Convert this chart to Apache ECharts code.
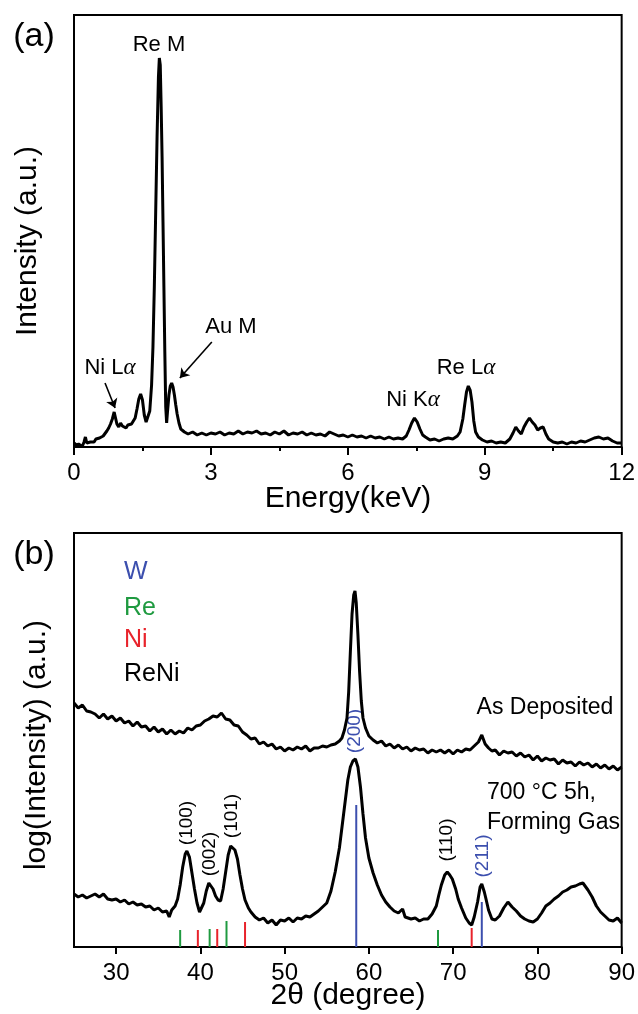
<!DOCTYPE html>
<html>
<head>
<meta charset="utf-8">
<script src="https://cdn.jsdelivr.net/npm/echarts@6/dist/echarts.min.js"></script>
<style>
html,body{margin:0;padding:0;background:#fff;}
#chart{width:638px;height:1014px;}
</style>
</head>
<body>
<div id="chart"></div>
<script>
// (a) EDS spectrum
var edsEnergy = [0.00,0.05,0.10,0.14,0.18,0.22,0.25,0.28,0.32,0.36,0.40,0.44,0.48,0.52,0.56,0.60,0.64,0.68,0.72,0.76,
	0.80,0.84,0.88,0.91,0.94,0.98,1.02,1.06,1.10,1.14,1.18,1.22,1.26,1.30,1.34,1.38,1.42,1.46,1.50,1.54,
	1.58,1.62,1.66,1.70,1.73,1.76,1.79,1.82,1.85,1.87,1.89,1.91,1.93,1.95,1.97,1.99,2.01,2.03,2.05,2.08,
	2.11,2.14,2.17,2.20,2.23,2.26,2.30,2.34,2.38,2.42,2.5,2.6,2.7,2.8,2.9,3.0,3.1,3.2,3.3,3.4,
	3.5,3.6,3.7,3.8,3.9,4.0,4.1,4.2,4.3,4.4,4.5,4.6,4.7,4.8,4.9,5.0,5.1,5.2,5.3,5.4,
	5.5,5.6,5.7,5.8,5.9,6.0,6.1,6.2,6.3,6.4,6.5,6.6,6.7,6.8,6.9,7.0,7.1,7.2,7.28,7.34,
	7.40,7.46,7.52,7.58,7.64,7.70,7.8,7.9,8.0,8.1,8.2,8.3,8.4,8.46,8.52,8.56,8.60,8.64,8.68,8.72,
	8.76,8.80,8.86,8.95,9.05,9.15,9.25,9.35,9.45,9.55,9.62,9.68,9.74,9.80,9.86,9.92,9.98,10.04,10.10,10.16,
	10.22,10.28,10.34,10.40,10.5,10.6,10.7,10.8,10.9,11.0,11.1,11.2,11.3,11.4,11.5,11.6,11.7,11.8,11.9,12.0];
var edsCounts = [4,2,3,1,0.5,5,10,4,3,5,7,5,8,7,9,8,11,13,16,19,
	23,28,35,29,23,20,24,21,23,19,22,20,23,25,29,38,48,53,47,32,
	25,27,36,62,100,160,235,310,370,389,382,340,290,225,160,95,40,24,36,52,
	61,64,60,52,42,33,24,18,16,15,13,15,12,14,12,14,13,15,12,14,
	13,16,13,15,14,16,13,14,12,15,13,16,12,14,13,15,12,14,12,13,
	11,15,13,11,12,10,12,10,11,9,11,9,10,8,10,8,9,8,11,17,
	24,29,25,18,12,10,7,8,6,8,9,8,11,15,28,42,55,61,57,45,
	26,15,10,7,5,6,4,5,4,8,14,20,16,13,20,25,29,25,22,17,
	19,20,13,8,5,4,5,3,5,4,6,5,7,9,10,8,9,6,4,4];
var edsTicks = [0,3,6,9,12];

// (b) XRD patterns
var asDepTheta = [25,25.5,26,26.5,27,27.5,28,28.5,29,29.5,30,30.5,31,31.5,32,32.5,33,33.5,34,34.5,
	35,35.5,36,36.5,37,37.5,38,38.5,39,39.5,40,40.5,41,41.5,42,42.5,43,43.5,44,44.5,
	45,45.5,46,46.5,47,47.5,48,48.5,49,49.5,50,50.5,51,51.5,52,52.5,53,53.5,54,54.5,
	55,55.5,56,56.5,56.8,57.1,57.4,57.6,57.8,58.0,58.2,58.35,58.5,58.7,58.9,59.1,59.3,59.6,60,60.5,
	61,61.5,62,62.5,63,63.5,64,64.5,65,65.5,66,66.5,67,67.5,68,68.5,69,69.5,70,70.5,
	71,71.5,72,72.5,73,73.4,73.8,74.2,74.6,75,75.5,76,76.5,77,77.5,78,78.5,79,79.5,80,
	80.5,81,81.5,82,82.5,83,83.5,84,84.5,85,85.5,86,86.5,87,87.5,88,88.5,89,89.5,90];
var asDeposited = [244,239,242,236,235,233,229,233,228,231,226,229,224,226,221,225,220,221,216,220,
	215,218,213,217,213,216,214,219,217,221,222,226,228,231,230,234,228,227,222,221,
	215,212,208,209,203,205,201,203,198,200,196,199,197,200,198,201,196,199,199,201,
	200,202,203,206,209,217,229,255,295,333,352,356,344,312,275,246,229,219,211,207,
	204,206,201,203,199,202,198,200,196,199,197,198,194,197,195,197,194,197,193,197,
	195,198,197,201,205,212,203,199,196,197,192,196,194,195,191,194,190,192,187,191,
	186,189,187,188,183,187,184,185,181,185,182,184,180,183,179,182,178,181,177,180];

var fgTheta = [25,25.5,26,26.5,27,27.5,28,28.5,29,29.5,30,30.5,31,31.5,32,32.5,33,33.5,34,34.5,
	35,35.5,36,36.3,36.6,37,37.3,37.6,37.9,38.2,38.4,38.7,39.0,39.3,39.6,39.9,40.1,40.4,40.7,41.0,
	41.2,41.5,41.8,42.1,42.4,42.7,43.0,43.3,43.6,43.8,44.1,44.4,44.7,45.0,45.3,45.7,46,46.5,47,47.5,
	48,48.5,49,49.5,50,50.5,51,51.5,52,52.5,53,53.5,54,54.5,55,55.5,56,56.5,57,57.5,
	57.8,58.1,58.4,58.7,59.0,59.3,59.6,60,60.5,61,61.5,62,62.5,63,63.5,64,64.3,64.5,65,65.5,
	66,66.5,67,67.5,68,68.3,68.6,69.0,69.3,69.6,69.9,70.3,70.6,71,71.5,71.9,72.2,72.5,72.9,73.2,
	73.4,73.7,73.9,74.2,74.6,75,75.5,76,76.5,77,77.5,78,78.5,79,79.5,80,80.5,81,81.5,82,
	82.5,83,83.5,84,84.5,85,85.4,86,86.5,87,87.5,88,88.5,89,89.5,90];
var formingGas = [53,50,52,49,51,53,50,53,48,47,48,45,47,43,45,42,43,40,41,37,
	39,35,36,30,37,41,48,62,80,93,96,90,74,58,44,35,33,44,56,64,
	65,58,51,47,46,58,75,92,101,103,97,88,72,58,47,39,35,30,27,29,
	24,27,22,27,26,29,25,29,28,31,30,33,36,40,44,56,75,99,133,167,
	180,186,188,180,160,133,109,89,74,62,52,45,40,36,34,38,30,31,28,29,
	26,28,28,33,41,52,62,72,75,72,68,58,48,39,29,24,22,30,45,60,
	63,55,48,37,28,27,31,39,45,40,36,31,28,26,25,28,34,41,44,48,
	51,55,57,60,61,63,64,57,50,41,35,31,27,26,29,24];
var xrdTicks = [30,40,50,60,70,80,90];

// reference lines: [2theta, stick height]
var wRef = [[58.5,142],[73.4,45]];
var reRef = [[37.6,17],[41.1,18],[43.1,26],[68.2,17]];
var niRef = [[39.7,17],[42.0,18],[45.3,25],[72.2,19]];

var FONT = 'Liberation Sans, Arial, sans-serif';
var BLUE = '#3c4fae', GREEN = '#1f9a40', RED = '#e8232b';

function zip(xs, ys){
	var out = [];
	for(var i=0;i<xs.length;i++){
		out.push([xs[i], ys[i]]);
	}
	return out;
}

function stickSeries(data, color){
	return {
		type:'custom', xAxisIndex:1, yAxisIndex:1, silent:true,
		data:data,
		renderItem:function(params, api){
			var p0 = api.coord([api.value(0), 0]);
			var p1 = api.coord([api.value(0), api.value(1)]);
			return {type:'line', shape:{x1:p0[0],y1:p0[1],x2:p1[0],y2:p1[1]},
				style:{stroke:color, lineWidth:2}};
		}
	};
}

//文字标注
function txt(s, x, y, size, color, opts){
	opts = opts || {};
	var st = {text:s, fill:color || '#000', font:(size)+'px '+FONT,
		align:opts.align || 'center', verticalAlign:'middle'};
	if(opts.rich){
		st.rich = opts.rich;
	}
	return {type:'text', x:x, y:y, rotation:opts.rot || 0, silent:true, style:st};
}

// greek alpha in italic serif like the original
var alphaRich = {a:{font:'italic 23px Liberation Serif, serif', fill:'#000'}};

var axisCommon = {
	axisLine:{show:true, onZero:false, lineStyle:{color:'#000', width:2}},
	splitLine:{show:false}
};

var myChart = echarts.init(document.getElementById('chart'), null, {renderer:'canvas'});
var option = {
	animation:false,
	backgroundColor:'#fff',
	grid:[
		{left:74, top:15, width:548, height:432, show:true, borderColor:'#000', borderWidth:2},
		{left:74, top:533, width:548, height:414, show:true, borderColor:'#000', borderWidth:2}
	],
	xAxis:[
		Object.assign({}, axisCommon, {
			type:'value', gridIndex:0, min:0, max:12, interval:3,
			axisTick:{show:true, inside:false, length:8, lineStyle:{color:'#000', width:2}},
			minorTick:{show:true, splitNumber:2, length:4, lineStyle:{color:'#000', width:2}},
			axisLabel:{show:true, color:'#000', fontSize:24, fontFamily:FONT, margin:14,
				customValues:edsTicks}
		}),
		Object.assign({}, axisCommon, {
			type:'value', gridIndex:1, min:25, max:90,
			axisTick:{show:true, inside:false, length:7, lineStyle:{color:'#000', width:2}, customValues:xrdTicks},
			axisLabel:{show:true, color:'#000', fontSize:24, fontFamily:FONT, margin:14, customValues:xrdTicks}
		})
	],
	yAxis:[
		Object.assign({}, axisCommon, {type:'value', gridIndex:0, min:0, max:432,
			axisTick:{show:false}, axisLabel:{show:false}}),
		Object.assign({}, axisCommon, {type:'value', gridIndex:1, min:0, max:414,
			axisTick:{show:false}, axisLabel:{show:false}})
	],
	series:[
		{
			name:'EDS', type:'line', xAxisIndex:0, yAxisIndex:0,
			data:zip(edsEnergy, edsCounts), showSymbol:false, symbol:'none',
			lineStyle:{color:'#000', width:3}, silent:true,
			markLine:{
				silent:true, symbol:['none','arrow'], symbolSize:9,
				label:{show:false},
				lineStyle:{color:'#000', width:1.6, type:'solid'},
				data:[
					[{coord:[0.68,64]},{coord:[0.90,39]}],
					[{coord:[3.02,105]},{coord:[2.32,69]}]
				]
			}
		},
		{
			name:'As Deposited', type:'line', xAxisIndex:1, yAxisIndex:1,
			data:zip(asDepTheta, asDeposited), showSymbol:false, symbol:'none',
			lineStyle:{color:'#000', width:3}, silent:true
		},
		{
			name:'Forming Gas', type:'line', xAxisIndex:1, yAxisIndex:1,
			data:zip(fgTheta, formingGas), showSymbol:false, symbol:'none',
			lineStyle:{color:'#000', width:3}, silent:true
		},
		stickSeries(wRef, BLUE),
		stickSeries(reRef, GREEN),
		stickSeries(niRef, RED)
	],
	graphic:{elements:[
		// panel (a)
		txt('(a)', 34, 37, 34),
		txt('Re M', 159, 45, 22),
		txt('Au M', 231, 327, 22),
		txt('Ni L{a|\u03b1}', 110, 368, 22, '#000', {rich:alphaRich}),
		txt('Ni K{a|\u03b1}', 413, 400, 22, '#000', {rich:alphaRich}),
		txt('Re L{a|\u03b1}', 466, 368, 22, '#000', {rich:alphaRich}),
		txt('Energy(keV)', 348, 499, 30),
		txt('Intensity (a.u.)', 28, 241, 30, '#000', {rot:Math.PI/2}),
		// panel (b)
		txt('(b)', 34, 555, 34),
		txt('W', 124, 572, 25, BLUE, {align:'left'}),
		txt('Re', 124, 608, 25, GREEN, {align:'left'}),
		txt('Ni', 124, 640, 25, RED, {align:'left'}),
		txt('ReNi', 124, 674, 25, '#000', {align:'left'}),
		txt('As Deposited', 545, 708, 23),
		txt('700 \u00b0C 5h,', 487, 793, 23, '#000', {align:'left'}),
		txt('Forming Gas', 487, 823, 23, '#000', {align:'left'}),
		txt('(100)', 187, 823, 19, '#000', {rot:Math.PI/2}),
		txt('(002)', 210, 854, 19, '#000', {rot:Math.PI/2}),
		txt('(101)', 232, 816, 19, '#000', {rot:Math.PI/2}),
		txt('(200)', 355, 731, 19, BLUE, {rot:Math.PI/2}),
		txt('(110)', 447, 840, 19, '#000', {rot:Math.PI/2}),
		txt('(211)', 483, 856, 19, BLUE, {rot:Math.PI/2}),
		txt('2\u03b8 (degree)', 348, 996, 30),
		txt('log(Intensity) (a.u.)', 37, 745, 30, '#000', {rot:Math.PI/2})
	]}
};
myChart.setOption(option);
</script>
</body>
</html>
